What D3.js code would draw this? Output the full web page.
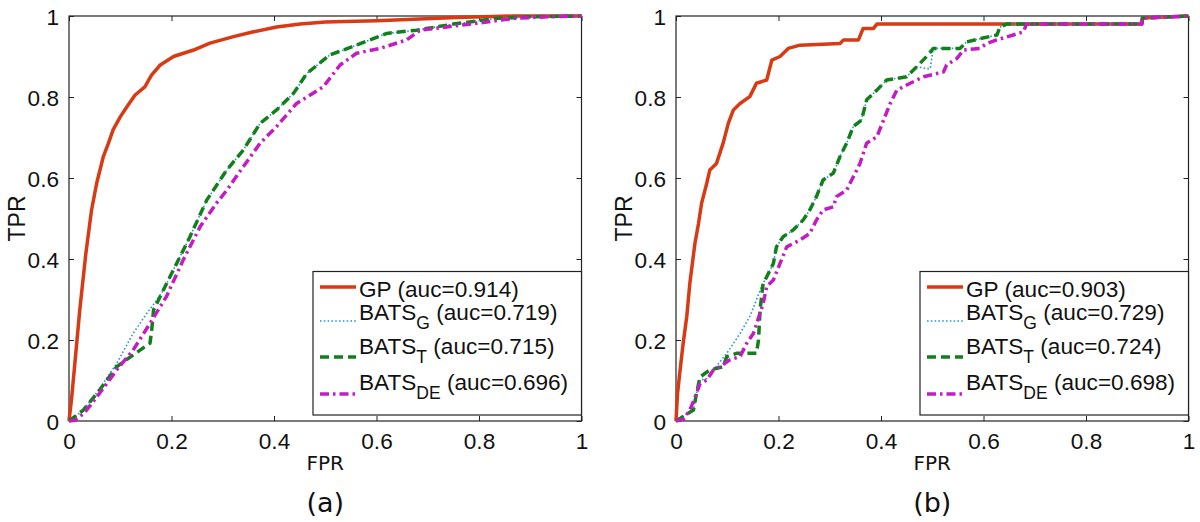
<!DOCTYPE html>
<html><head><meta charset="utf-8">
<script src="https://cdn.jsdelivr.net/npm/d3@7"></script>
<style>body{margin:0;background:#fff}svg{display:block}</style>
</head><body>
<svg id="c" width="1200" height="522"></svg>
<script>
// ---------- data ----------
const tickValues = [0, 0.2, 0.4, 0.6, 0.8, 1];
const tickLabels = ["0", "0.2", "0.4", "0.6", "0.8", "1"];
const seriesNames = ["GP", "BATS", "BATS", "BATS"];
const seriesSubs = ["", "G", "T", "DE"];
const aucA = ["0.914", "0.719", "0.715", "0.696"];
const aucB = ["0.903", "0.729", "0.724", "0.698"];
const panelLabels = ["(a)", "(b)"];

const gpA = [[0,0],[.005,.055],[.012,.15],[.021,.274],[.033,.415],[.044,.521],[.054,.587],[.067,.653],[.077,.686],[.086,.719],[.1,.751],[.113,.776],[.129,.805],[.148,.825],[.161,.854],[.178,.879],[.204,.9],[.243,.916],[.275,.933],[.321,.949],[.36,.961],[.405,.973],[.451,.98],[.5,.985],[.6,.988],[.756,.996],[.867,1],[1,1]];
const batsGA = [[0,0],[.028,.027],[.06,.08],[.093,.142],[.125,.216],[.152,.266],[.172,.30],[.184,.323],[.21,.389],[.236,.455],[.269,.546],[.308,.62],[.34,.669],[.373,.735],[.405,.768],[.438,.809],[.464,.858],[.509,.904],[.561,.928],[.62,.957],[.678,.965],[.75,.98],[.834,.994],[.9,.998],[1,1]];
const batsTA = [[0,0],[.028,.027],[.06,.077],[.093,.134],[.125,.163],[.158,.192],[.161,.22],[.165,.274],[.184,.323],[.21,.389],[.236,.455],[.269,.546],[.308,.62],[.34,.669],[.373,.735],[.405,.768],[.438,.809],[.464,.858],[.509,.904],[.561,.928],[.62,.957],[.678,.965],[.75,.98],[.834,.994],[.9,.998],[1,1]];
const batsDEA = [[0,0],[.012,.002],[.03,.02],[.06,.069],[.093,.126],[.125,.175],[.158,.241],[.19,.307],[.223,.398],[.256,.48],[.288,.538],[.308,.57],[.34,.628],[.373,.686],[.405,.727],[.444,.784],[.496,.825],[.529,.879],[.561,.908],[.607,.92],[.659,.941],[.685,.965],[.737,.973],[.802,.983],[.867,.994],[.932,.998],[1,1]];

const gpB = [[0,0],[.003,.068],[.008,.126],[.014,.192],[.021,.258],[.027,.34],[.037,.439],[.044,.488],[.05,.538],[.06,.587],[.066,.62],[.079,.636],[.092,.686],[.102,.735],[.112,.768],[.125,.784],[.144,.801],[.157,.834],[.177,.842],[.187,.891],[.203,.9],[.219,.92],[.242,.928],[.32,.932],[.327,.941],[.356,.941],[.365,.969],[.385,.969],[.392,.98],[.909,.98],[.91,.995],[1,1]];
const batsGB = [[0,0],[.034,.027],[.04,.068],[.047,.101],[.06,.105],[.099,.167],[.125,.216],[.144,.258],[.157,.299],[.164,.323],[.17,.34],[.177,.356],[.19,.389],[.196,.43],[.209,.455],[.229,.472],[.248,.496],[.261,.521],[.274,.554],[.287,.595],[.307,.612],[.32,.653],[.333,.686],[.346,.727],[.362,.743],[.372,.793],[.392,.817],[.411,.842],[.45,.85],[.47,.875],[.489,.87],[.496,.87],[.502,.92],[.554,.92],[.567,.936],[.593,.944],[.626,.953],[.632,.972],[.645,.98],[.909,.98],[.91,.995],[1,1]];
const batsTB = [[0,0],[.034,.027],[.04,.068],[.047,.109],[.066,.126],[.092,.134],[.099,.159],[.118,.167],[.157,.167],[.161,.2],[.164,.274],[.17,.34],[.177,.356],[.19,.389],[.196,.43],[.209,.455],[.229,.472],[.248,.496],[.261,.521],[.274,.554],[.287,.595],[.307,.612],[.32,.653],[.333,.686],[.346,.727],[.362,.743],[.372,.793],[.392,.817],[.411,.842],[.45,.85],[.47,.875],[.489,.9],[.502,.92],[.554,.92],[.567,.936],[.593,.944],[.626,.953],[.632,.972],[.645,.98],[.909,.98],[.91,.995],[1,1]];
const batsDEB = [[0,0],[.015,.005],[.027,.027],[.04,.068],[.047,.093],[.06,.101],[.073,.126],[.086,.134],[.105,.151],[.125,.159],[.138,.192],[.151,.216],[.164,.266],[.17,.29],[.177,.332],[.19,.348],[.203,.389],[.216,.43],[.242,.447],[.261,.463],[.274,.496],[.287,.521],[.307,.529],[.313,.554],[.333,.57],[.346,.603],[.359,.636],[.372,.686],[.392,.702],[.405,.743],[.418,.784],[.431,.817],[.457,.834],[.483,.85],[.522,.862],[.528,.879],[.548,.895],[.561,.916],[.593,.92],[.606,.932],[.626,.941],[.658,.953],[.678,.961],[.684,.98],[.909,.98],[.91,.995],[1,1]];

// ---------- styles ----------
const styles = [
  {color:"#d83a14", width:3.5, dash:null},
  {color:"#2c95d2", width:1.6, dash:"1.6,2.2"},
  {color:"#12801a", width:3.5, dash:"9,5"},
  {color:"#c21cc2", width:3.5, dash:"9,4,2.5,4"}
];

const panels = [
  {left:69, series:[gpA,batsGA,batsTA,batsDEA], auc:aucA, label:panelLabels[0], legLeft:313},
  {left:676, series:[gpB,batsGB,batsTB,batsDEB], auc:aucB, label:panelLabels[1], legLeft:920}
];

const svg = d3.select("#c");
const W = 512.5, topY = 16, bottomY = 421;
const tickFont = "'Liberation Sans', Arial, sans-serif";
const fs = 22.6;

panels.forEach(p => {
  const x = d3.scaleLinear().domain([0,1]).range([p.left, p.left + W]);
  const y = d3.scaleLinear().domain([0,1]).range([bottomY, topY]);
  const g = svg.append("g");

  // frame
  g.append("rect").attr("x", x(0)).attr("y", y(1)).attr("width", x(1)-x(0)).attr("height", y(0)-y(1))
    .attr("fill", "none").attr("stroke", "#222").attr("stroke-width", 1.2);

  // axes
  const fmt = (d) => tickLabels[tickValues.indexOf(d)];
  const xb = g.append("g").attr("transform", `translate(0,${bottomY})`)
    .call(d3.axisBottom(x).tickValues(tickValues).tickFormat(fmt).tickSizeInner(-5).tickSizeOuter(0).tickPadding(12));
  const xt = g.append("g").attr("transform", `translate(0,${topY})`)
    .call(d3.axisTop(x).tickValues(tickValues).tickFormat("").tickSizeInner(-5).tickSizeOuter(0));
  const yl = g.append("g").attr("transform", `translate(${p.left},0)`)
    .call(d3.axisLeft(y).tickValues(tickValues).tickFormat(fmt).tickSizeInner(-5).tickSizeOuter(0).tickPadding(10));
  const yr = g.append("g").attr("transform", `translate(${p.left+W},0)`)
    .call(d3.axisRight(y).tickValues(tickValues).tickFormat("").tickSizeInner(-5).tickSizeOuter(0));
  [xb, xt, yl, yr].forEach(a => {
    a.select(".domain").remove();
    a.selectAll("line").attr("stroke", "#222");
    a.selectAll("text").attr("font-family", tickFont).attr("font-size", fs).attr("fill", "#111");
  });
  xb.selectAll("text").attr("dy", "0.71em");
  yl.selectAll("text").attr("dy", "0.36em");

  // curves
  const line = d3.line().x(d => x(d[0])).y(d => y(d[1]));
  const clip = "clip" + p.left;
  g.append("clipPath").attr("id", clip).append("rect")
    .attr("x", x(0) - 2).attr("y", y(1) - 2).attr("width", W + 4).attr("height", bottomY - topY + 4);
  p.series.forEach((s, i) => {
    g.append("path").datum(s).attr("d", line).attr("fill", "none")
      .attr("clip-path", `url(#${clip})`)
      .attr("stroke", styles[i].color).attr("stroke-width", styles[i].width)
      .attr("stroke-dasharray", styles[i].dash).attr("stroke-linejoin", "round");
  });

  // legend
  const lx = p.legLeft, ly = 271.5, lw = x(1) - lx, lh = 143.5;
  g.append("rect").attr("x", lx).attr("y", ly).attr("width", lw).attr("height", lh)
    .attr("fill", "#fff").attr("stroke", "#222").attr("stroke-width", 1.2);
  const lineYs = [15.5, 49.5, 85.5, 122.5];
  const baseYs = [25, 48.5, 82.5, 118.5];
  seriesNames.forEach((nm, i) => {
    g.append("line").attr("x1", lx + 7).attr("x2", lx + 43)
      .attr("y1", ly + lineYs[i]).attr("y2", ly + lineYs[i])
      .attr("stroke", styles[i].color).attr("stroke-width", styles[i].width)
      .attr("stroke-dasharray", styles[i].dash);
    const t = g.append("text").attr("x", lx + 46).attr("y", ly + baseYs[i])
      .attr("font-family", tickFont).attr("font-size", fs).attr("fill", "#111");
    t.append("tspan").text(nm);
    if (seriesSubs[i]) {
      t.append("tspan").attr("font-size", 17.5).attr("dy", 9).text(seriesSubs[i]);
      t.append("tspan").attr("dy", -9).text(" (auc=" + p.auc[i] + ")");
    } else {
      t.append("tspan").text(" (auc=" + p.auc[i] + ")");
    }
  });

  // axis titles
  const cx = (x(0) + x(1)) / 2;
  g.append("text").attr("x", cx).attr("y", 470).attr("text-anchor", "middle")
    .attr("font-family", "'DejaVu Sans', sans-serif").attr("font-size", 20).attr("fill", "#111").text("FPR");
  g.append("text").attr("transform", `translate(${p.left - 44},${(topY+bottomY)/2}) rotate(-90)`)
    .attr("text-anchor", "middle")
    .attr("font-family", tickFont).attr("font-size", 23).attr("fill", "#111").text("TPR");
  g.append("text").attr("x", cx).attr("y", 512).attr("text-anchor", "middle")
    .attr("font-family", "'DejaVu Sans', sans-serif").attr("font-size", 27).attr("fill", "#111").text(p.label);
});
</script>
</body></html>
